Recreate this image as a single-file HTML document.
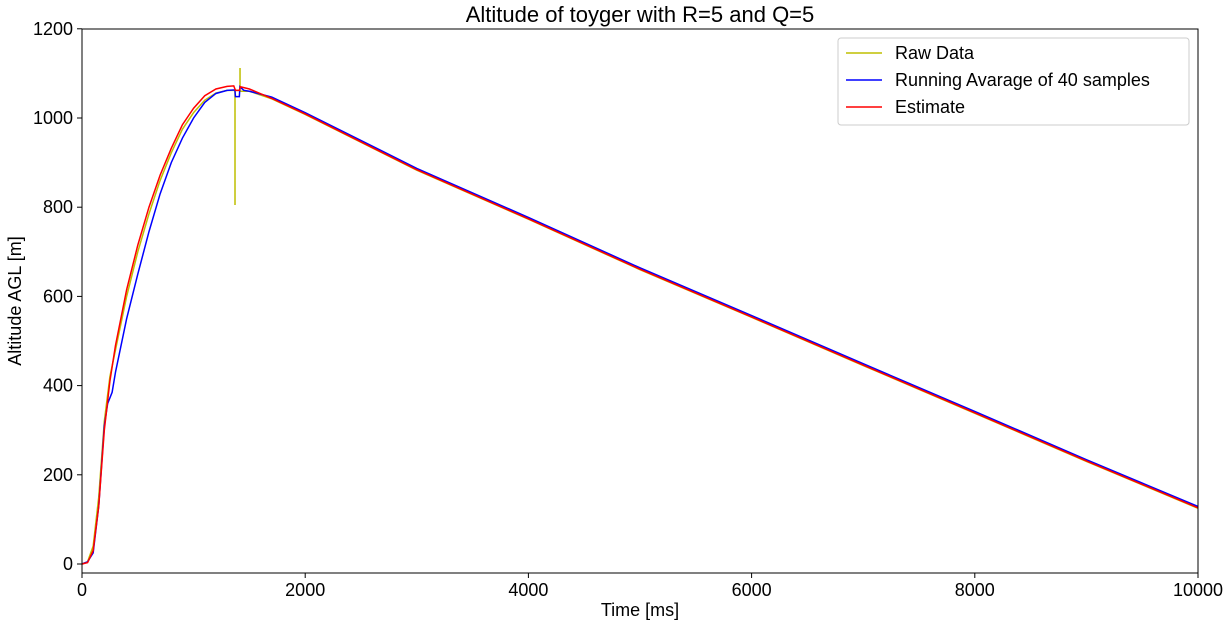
<!DOCTYPE html>
<html><head><meta charset="utf-8"><style>
body{margin:0;background:#fff;font-family:"Liberation Sans",sans-serif}
</style></head><body>
<svg id="chart" width="1232" height="627" xmlns="http://www.w3.org/2000/svg" font-family="Liberation Sans, sans-serif">
<rect width="1232" height="627" fill="#fff"/>
<text x="640" y="22" font-size="22" text-anchor="middle">Altitude of toyger with R=5 and Q=5</text>
<g id="series"></g>
<rect x="82" y="29" width="1116" height="544" fill="none" stroke="#000" stroke-width="1"/>
<g id="axes" font-size="18"></g>
<text x="640" y="616" font-size="18" text-anchor="middle">Time [ms]</text>
<text transform="translate(21,301) rotate(-90)" font-size="18" text-anchor="middle">Altitude AGL [m]</text>
<g>
<rect x="838" y="38" width="351" height="87" rx="3" fill="#fff" stroke="#ccc"/>
<line x1="846" y1="53" x2="882" y2="53" stroke="#bfbf00" stroke-width="1.5"/>
<text x="895" y="59" font-size="18">Raw Data</text>
<line x1="846" y1="80" x2="882" y2="80" stroke="#0000ff" stroke-width="1.5"/>
<text x="895" y="86" font-size="18">Running Avarage of 40 samples</text>
<line x1="846" y1="107" x2="882" y2="107" stroke="#ff0000" stroke-width="1.5"/>
<text x="895" y="113" font-size="18">Estimate</text>
</g>
</svg>
<script>
const xTicks=[0,2000,4000,6000,8000,10000];
const yTicks=[0,200,400,600,800,1000,1200];
const tail=[[1700,1045],[2000,1010],[3000,885],[4000,775],[5000,662],[6000,555],[7000,447],[8000,340],[9000,232],[10000,127]];
const rawT=[0,50,100,150,200,250,300,400,500,600,700,800,900,1000,1100,1200,1300,1371,1371,1371,1416,1416,1416,1500];
const rawA=[0,5,40,150,320,420,480,600,700,785,860,922,975,1012,1040,1056,1062,1062,805,1062,1062,1112,1060,1060];
const avgT=[0,50,100,150,200,230,270,300,400,500,600,700,800,900,1000,1100,1200,1300,1370,1375,1410,1415,1450,1500];
const avgA=[0,5,25,130,310,360,385,430,550,650,745,830,900,955,1000,1035,1055,1062,1063,1048,1048,1070,1062,1060];
const estT=[0,50,100,150,200,250,300,400,500,600,700,800,900,1000,1100,1200,1300,1360,1375,1410,1420,1500];
const estA=[0,3,30,130,300,410,490,615,715,800,872,932,985,1022,1050,1065,1071,1072,1062,1062,1070,1065];
const xS=t=>82+t*1116/10000;
const yS=a=>564-a*0.446;
const NS="http://www.w3.org/2000/svg";
const ax=document.getElementById('axes');
xTicks.forEach(v=>{
 const l=document.createElementNS(NS,'line');l.setAttribute('x1',xS(v));l.setAttribute('x2',xS(v));l.setAttribute('y1',573);l.setAttribute('y2',578);l.setAttribute('stroke','#000');
 
 
 ax.appendChild(l);
 const t=document.createElementNS(NS,'text');t.setAttribute('x',xS(v));t.setAttribute('y',596);t.setAttribute('text-anchor','middle');t.textContent=v;
 
 
 ax.appendChild(t);
});
yTicks.forEach(v=>{
 const l=document.createElementNS(NS,'line');l.setAttribute('x1',77);l.setAttribute('x2',82);l.setAttribute('y1',yS(v));l.setAttribute('y2',yS(v));l.setAttribute('stroke','#000');
 
 
 ax.appendChild(l);
 const t=document.createElementNS(NS,'text');t.setAttribute('x',73);t.setAttribute('y',yS(v)+6);t.setAttribute('text-anchor','end');t.textContent=v;
 
 
 ax.appendChild(t);
});
const sg=document.getElementById('series');
function draw(T,A,off,color,name){
 const pts=T.map((t,i)=>[t,A[i]]).concat(tail.map(p=>[p[0],p[1]+off]));
 const p=document.createElementNS(NS,'polyline');
 p.setAttribute('points',pts.map(q=>xS(q[0])+','+yS(q[1])).join(' '));
 p.setAttribute('fill','none');p.setAttribute('stroke',color);p.setAttribute('stroke-width','1.5');
 
 
 sg.appendChild(p);
}
draw(rawT,rawA,-2,'#bfbf00','raw-data-line');
draw(avgT,avgA,2,'#0000ff','running-average-line');
draw(estT,estA,-1,'#ff0000','estimate-line');
</script>
</body></html>
